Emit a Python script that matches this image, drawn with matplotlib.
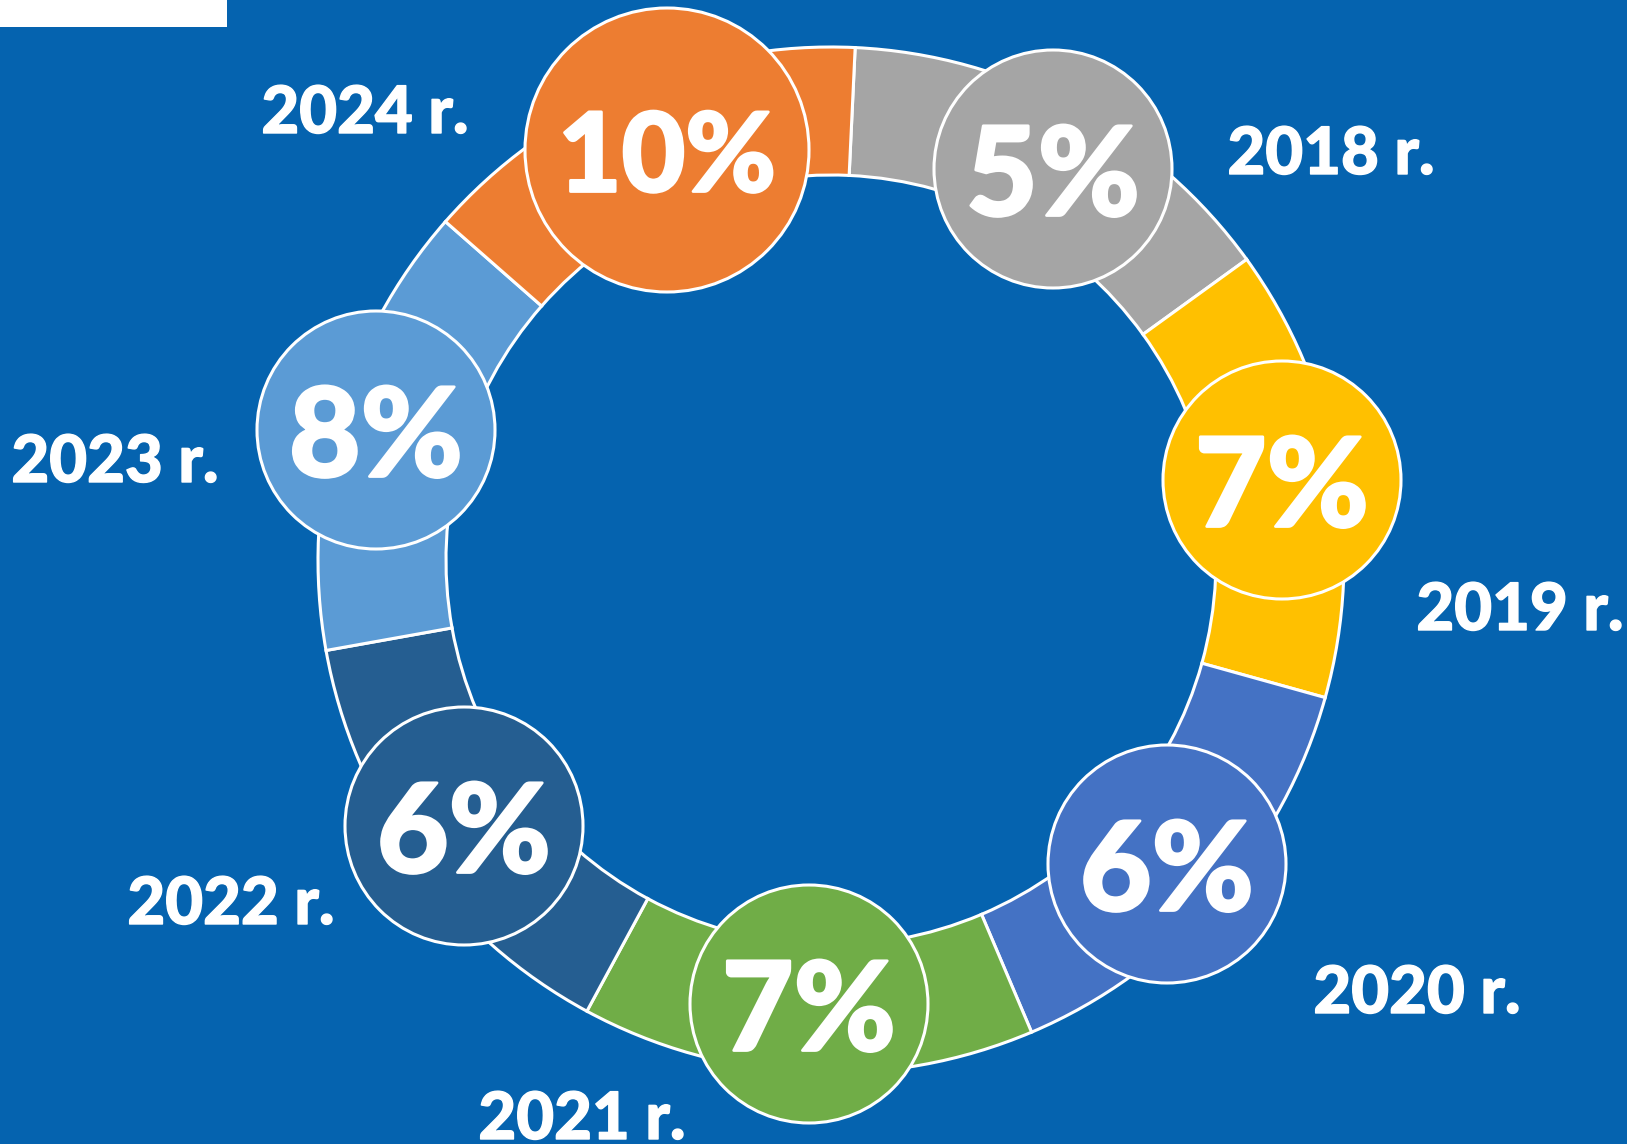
import numpy as np
import matplotlib.pyplot as plt
import matplotlib.patheffects as pe
from matplotlib.patches import Circle, Rectangle

years = ["2018 r.", "2019 r.", "2020 r.", "2021 r.", "2022 r.", "2023 r.", "2024 r."]
percents = [5, 7, 6, 7, 6, 8, 10]
colors = ["#A5A5A5", "#FFC000", "#4472C4", "#70AD47", "#255E91", "#5B9BD5", "#ED7D31"]

W, H = 1627, 1144
bg = "#0563AF"

# layout (pixels, top-left origin)
cx, cy = 831, 560
r_out, ring_w = 513, 128
start = 2.7  # degrees clockwise from top
dot_pos = [(1053, 169), (1282, 480), (1167, 864), (809, 1004),
           (464, 826), (376, 430), (667, 150)]
label_pos = [(1331, 150), (1520, 606), (1417, 989), (582, 1115),
             (231, 900), (115, 458), (365, 109)]

fig = plt.figure(figsize=(W / 100, H / 100), dpi=100)
fig.patch.set_facecolor(bg)
ax = fig.add_axes([0, 0, 1, 1])
ax.set_facecolor(bg)

# equal wedges, one per year
ax.pie([1] * len(years), colors=colors, radius=r_out, center=(cx, H - cy),
       startangle=90 - start, counterclock=False,
       wedgeprops=dict(width=ring_w, edgecolor="white", linewidth=2.2))

for i, (yr, p, c) in enumerate(zip(years, percents, colors)):
    x, y = dot_pos[i]
    y = H - y
    big = p == max(percents)
    rad = 142 if big else 119
    ax.add_patch(Circle((x, y), rad, facecolor=c, edgecolor="white", lw=2.2, zorder=3))
    ax.text(x, y, f"{p}%", color="white", fontsize=79 if big else 89,
            family="Lato", fontweight="black", ha="center", va="center_baseline", zorder=4,
            path_effects=[pe.withStroke(linewidth=2.0, foreground="white")])
    lx, ly = label_pos[i]
    ax.text(lx, H - ly, yr, color="white", fontsize=47, family="Lato",
            fontweight="black", ha="center", va="center_baseline",
            path_effects=[pe.withStroke(linewidth=1.0, foreground="white")])

ax.add_patch(Rectangle((0, H - 27), 227, 27, facecolor="white", edgecolor="none"))

ax.set_xlim(0, W)
ax.set_ylim(0, H)
ax.set_aspect("auto")
ax.axis("off")

fig.savefig("out.png", dpi=100, facecolor=bg)
